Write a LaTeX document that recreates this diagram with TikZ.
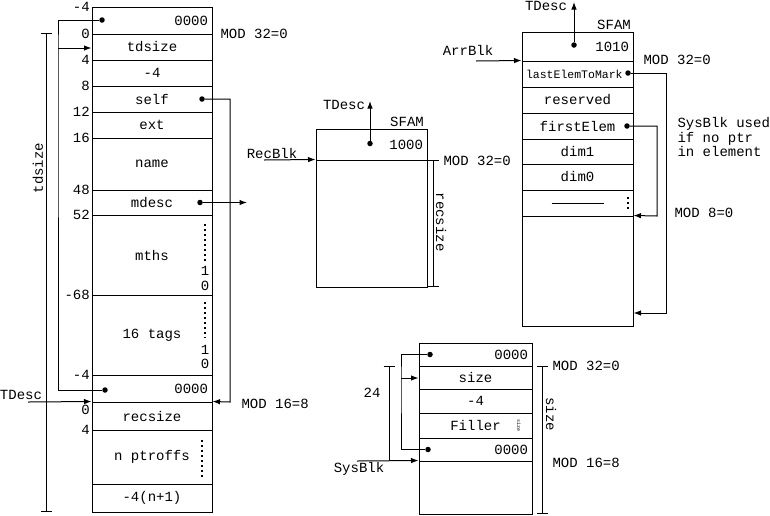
\documentclass[tikz,border=0pt]{standalone}
\usepackage{fontspec}
\setmonofont{Liberation Mono}
\usetikzlibrary{arrows.meta}

\begin{document}
\begin{tikzpicture}[x=1pt,y=-1pt,
    every node/.style={font=\ttfamily\fontsize{14}{14.5}\selectfont},
    cell/.style={draw,line width=1pt,inner sep=0pt,minimum width=#1},
    rt/.style={text width=#1,align=right},
    lt/.style={text width=#1,align=left},
    ptr/.style={circle,fill=black,inner sep=0pt,minimum size=5.5pt},
    wire/.style={line width=1pt},
    arr/.style={line width=1pt,-{Latex[length=7.5pt,width=5.5pt]}},
    dimb/.style={line width=1pt,{Bar[width=11pt]}-{Bar[width=11pt]}},
    idx/.style={line width=1.6pt,dash pattern=on 1.6pt off 3.4pt},
    off/.style={anchor=east,inner sep=1pt}]
  \useasboundingbox (0,0) rectangle (770,515);

  \node[cell=120pt,rt=112pt,minimum height=27pt] (t0) at (152,20.5) {0000};
  \node[cell=120pt,minimum height=26pt] (t1) at (152,47) {tdsize};
  \node[cell=120pt,minimum height=26pt] (t2) at (152,73) {-4};
  \node[cell=120pt,minimum height=26pt] (t3) at (152,99) {self};
  \node[cell=120pt,minimum height=26pt] (t4) at (152,125) {ext};
  \node[cell=120pt,minimum height=52pt] (t5) at (152,164) {name};
  \node[cell=120pt,minimum height=25pt] (t6) at (152,202.5) {mdesc};
  \node[cell=120pt,minimum height=80pt] (t7) at (152,255) {mths};
  \node[cell=120pt,minimum height=80pt] (t8) at (152,335) {16 tags};
  \node[cell=120pt,rt=112pt,minimum height=27pt] (t9) at (152,388.5) {0000};
  \node[cell=120pt,minimum height=28pt] (t10) at (152,416) {recsize};
  \node[cell=120pt,minimum height=54pt] (t11) at (152,457) {n ptroffs};
  \node[cell=120pt,minimum height=28pt] (t12) at (152,498) {-4(n+1)};

  \node[off] (o0) at (91,7) {-4};
  \node[off] (o1) at (91,34) {0};
  \node[off] (o2) at (91,60) {4};
  \node[off] (o3) at (91,86) {8};
  \node[off] (o4) at (91,112) {12};
  \node[off] (o5) at (91,138) {16};
  \node[off] (o6) at (91,190) {48};
  \node[off] (o7) at (91,215) {52};
  \node[off] (o8) at (91,295) {-68};
  \node[off] (o9) at (91,375) {-4};
  \node[off] (o10) at (91,410) {0};
  \node[off] (o11) at (91,430) {4};

  \draw[idx] (205,224) -- (205,262);
  \node (i7a) at (205,271) {1};
  \node (i7b) at (205,286) {0};
  \draw[idx] (205,302) -- (205,338);
  \node (i8a) at (205,350) {1};
  \node (i8b) at (205,364) {0};
  \draw[idx] (202,440) -- (202,478);

  \node[ptr] (p0) at (102,20) {};
  \node[ptr] (p9) at (105,390) {};
  \node[ptr] (p3) at (202,99) {};
  \node[ptr] (p6) at (200,202.5) {};
  \coordinate (lk) at (58,48);
  \coordinate (sb) at (230,402);
  \coordinate (md) at (247,202.5);
  \coordinate (tdin) at (28,402);
  \draw[wire] (p0) -| (lk) |- (p9);
  \draw[arr] (lk) -- (lk -| t1.west);
  \draw[arr] (p3) -| (sb) -- (t10.north east);
  \draw[arr] (p6) -- (md);
  \node (tdl) at (21,395) {TDesc};
  \draw[arr] (tdin) -- (t10.north west);

  \coordinate (ds0) at (46,33);
  \coordinate (ds1) at (46,512);
  \draw[dimb] (ds0) -- (ds1);
  \node[rotate=90] (tds) at (38,168) {tdsize};
  \node[anchor=west] (ml0) at (217,34) {MOD 32=0};
  \node[anchor=west] (ml1) at (238,404) {MOD 16=8};

  \node[cell=111pt,rt=103pt,minimum height=31pt] (m0) at (371.5,144.5) {1000};
  \node[cell=111pt,minimum height=127pt] (m1) at (371.5,223.5) {};
  \node[ptr] (pm) at (370,143.5) {};
  \coordinate (pmt) at (370,101);
  \draw[arr] (pm) -- (pmt);
  \node (tdm) at (344,105) {TDesc};
  \node (sfm) at (407,122) {SFAM};
  \node (rb) at (272,153) {RecBlk};
  \coordinate (rbin) at (264,160);
  \draw[arr] (rbin) -- (m1.north west);
  \coordinate (rs0) at (433,160);
  \coordinate (rs1) at (433,287);
  \draw[dimb] (rs0) -- (rs1);
  \node[rotate=-90] (rsz) at (441,222) {recsize};
  \node[anchor=west] (mm) at (440,161) {MOD 32=0};

  \node[cell=111pt,rt=103pt,minimum height=29pt] (a0) at (577.5,46.5) {1010};
  \node[cell=111pt,lt=103pt,minimum height=26pt,font=\ttfamily\fontsize{11.5}{12}\selectfont] (a1) at (577.5,74) {lastElemToMark};
  \node[cell=111pt,minimum height=26pt] (a2) at (577.5,100) {reserved};
  \node[cell=111pt,minimum height=26pt] (a3) at (577.5,126) {firstElem};
  \node[cell=111pt,minimum height=25pt] (a4) at (577.5,151.5) {dim1};
  \node[cell=111pt,minimum height=26pt] (a5) at (577.5,177) {dim0};
  \node[cell=111pt,minimum height=26pt] (a6) at (577.5,203) {};
  \node[cell=111pt,minimum height=110pt] (a7) at (577.5,271) {};
  \draw[wire] ([xshift=-26pt]a6.center) -- ([xshift=26pt]a6.center);
  \draw[idx] (628,197) -- (628,210);

  \node[ptr] (pa0) at (574,45) {};
  \node[ptr] (pa1) at (628,73) {};
  \node[ptr] (pa3) at (627,126) {};
  \coordinate (ta) at (574,2);
  \coordinate (abin) at (476,61);
  \coordinate (la) at (666,313);
  \coordinate (fe) at (657,216);
  \draw[arr] (pa0) -- (ta);
  \draw[arr] (abin) -- (a1.north west);
  \draw[arr] (pa1) -| (la) -- (la -| a7.east);
  \draw[arr] (pa3) -| (fe) -- (a7.north east);
  \node (tda) at (546,6) {TDesc};
  \node (sfa) at (614,25) {SFAM};
  \node (ab) at (468,50) {ArrBlk};
  \node[anchor=west] (ma0) at (640,60) {MOD 32=0};
  \node[anchor=west,align=left] (sbu) at (674,137) {SysBlk used\\if no ptr\\in element};
  \node[anchor=west] (ma1) at (671,213) {MOD 8=0};

  \node[cell=113pt,rt=105pt,minimum height=23pt] (s0) at (475.5,354.5) {0000};
  \node[cell=113pt,minimum height=23pt] (s1) at (475.5,377.5) {size};
  \node[cell=113pt,minimum height=24pt] (s2) at (475.5,401) {-4};
  \node[cell=113pt,minimum height=25pt] (s3) at (475.5,425.5) {Filler};
  \node[cell=113pt,rt=105pt,minimum height=23pt] (s4) at (475.5,449.5) {0000};
  \node[cell=113pt,minimum height=53pt] (s5) at (475.5,487.5) {};
  \node[rotate=-90,font=\ttfamily\fontsize{5}{5}\selectfont] (fsz) at (519,425) {size};

  \node[ptr] (ps0) at (430,354.5) {};
  \node[ptr] (ps4) at (428,449.5) {};
  \coordinate (sk) at (401,378);
  \coordinate (sbin) at (357,461);
  \draw[wire] (ps0) -| (sk) |- (ps4);
  \draw[arr] (sk) -- (sk -| s1.west);
  \draw[arr] (sbin) -- (s5.north west);
  \coordinate (d24a) at (389,366);
  \coordinate (d24b) at (389,461);
  \draw[wire,{Bar[width=11pt]}-] (d24a) -- (d24b);
  \node (n24) at (372,393) {24};
  \node (sbl) at (359,469) {SysBlk};
  \coordinate (sz0) at (542,366);
  \coordinate (sz1) at (542,514);
  \draw[dimb] (sz0) -- (sz1);
  \node[rotate=-90] (ssz) at (551,414) {size};
  \node[anchor=west] (ms0) at (549,366) {MOD 32=0};
  \node[anchor=west] (ms1) at (549,463) {MOD 16=8};
\end{tikzpicture}
\end{document}
